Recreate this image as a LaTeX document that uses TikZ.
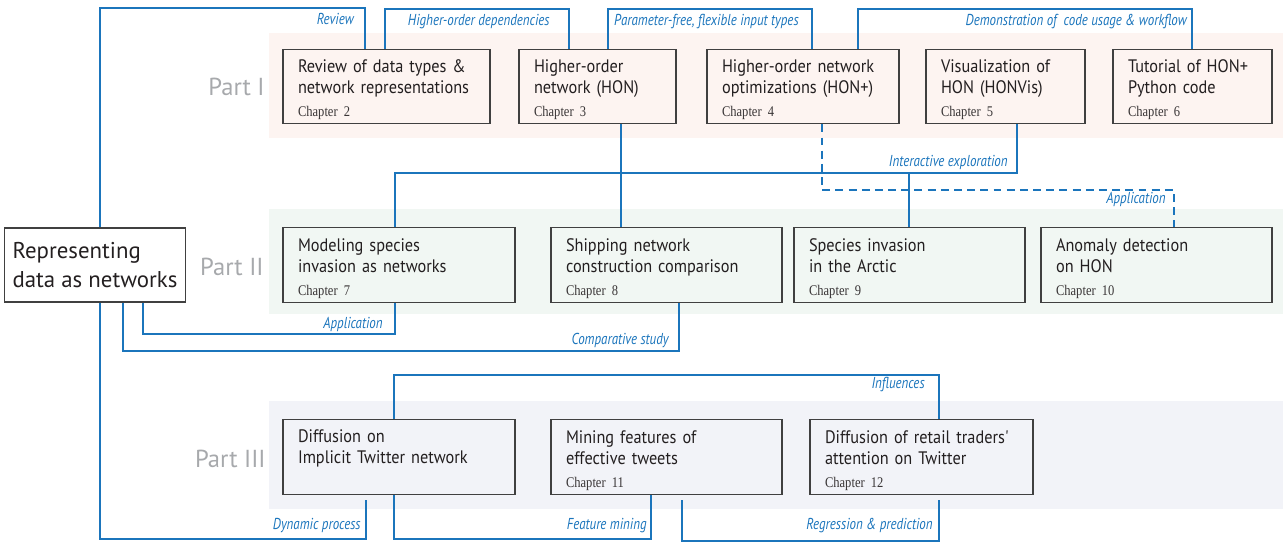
\documentclass[tikz,border=0pt]{standalone}
\usepackage{fontspec}
\setsansfont{PT Sans}
\newfontfamily\boxfont[FakeStretch=0.9]{PT Sans}
\newfontfamily\lblfont[FakeStretch=0.82]{PT Sans}
\newfontfamily\chapfont[FakeStretch=0.85]{Liberation Serif}
\usepackage{tikz}
\usetikzlibrary{arrows.meta,positioning,calc}
\definecolor{linkblue}{RGB}{27,117,188}
\definecolor{boxgray}{RGB}{64,64,64}
\definecolor{partgray}{RGB}{167,169,172}
\definecolor{textdark}{RGB}{35,31,32}
\definecolor{bandone}{RGB}{253,244,241}
\definecolor{bandtwo}{RGB}{241,247,243}
\definecolor{bandthree}{RGB}{242,243,248}
\tikzset{
  chapbox/.style={draw=boxgray, line width=0.7pt, minimum height=1.49cm,
                  text width=#1, inner xsep=0.3cm, inner ysep=0pt, align=left,
                  text=textdark, font=\boxfont\fontsize{10.3}{12}\selectfont,
                  execute at begin node={\rule{0pt}{11pt}}},
  rootbox/.style={draw=boxgray, line width=0.7pt, minimum height=1.48cm,
                  minimum width=3.56cm, inner xsep=0.16cm, align=left,
                  text=textdark, font=\sffamily\fontsize{13}{16.5}\selectfont},
  partlbl/.style={font=\sffamily\fontsize{14}{16}\selectfont, text=partgray,
                  inner sep=0pt, anchor=east},
  lbl/.style={font=\lblfont\itshape\fontsize{9}{10}\selectfont, text=linkblue,
              inner sep=0pt, anchor=east},
  link/.style={draw=linkblue, line width=1.1pt},
  dashlink/.style={link, dash pattern=on 4.5pt off 3pt},
}
\newcommand{\chap}[1]{{\chapfont\fontsize{8.4}{9}\selectfont\color{textdark!90} #1}}

\begin{document}
\begin{tikzpicture}[x=0.02cm, y=-0.02cm]
\useasboundingbox (0,0) rectangle (1287,551);

% ================= bands =================
\fill[bandone] (269,33) rectangle (1283,138);
\fill[bandtwo] (269,209) rectangle (1283,314);
\fill[bandthree] (269,401) rectangle (1283,509);

\node[partlbl] (part1) at (265,87) {Part I};
\node[partlbl] (part2) at (264,267) {Part II};
\node[partlbl] (part3) at (266,459) {Part III};

\node[rootbox] (root) at (95,265) {Representing\\data as networks};

% ================= Part I =================
\node[chapbox=3.54cm] (ch2) at (386.5,86.5)
  {Review of data types \&\\network representations\\[1pt]\chap{Chapter 2}};
\node[chapbox=2.54cm] (ch3) at (597.5,86.5)
  {Higher-order\\network (HON)\\[1pt]\chap{Chapter 3}};
\node[chapbox=3.24cm] (ch4) at (803,86.5)
  {Higher-order network\\optimizations (HON+)\\[1pt]\chap{Chapter 4}};
\node[chapbox=2.58cm] (ch5) at (1005.5,86.5)
  {Visualization of\\HON (HONVis)\\[1pt]\chap{Chapter 5}};
\node[chapbox=2.58cm] (ch6) at (1192.5,86.5)
  {Tutorial of HON+\\Python code\\[1pt]\chap{Chapter 6}};

% ================= Part II =================
\node[chapbox=4.04cm] (ch7) at (399,265)
  {Modeling species\\invasion as networks\\[1pt]\chap{Chapter 7}};
\node[chapbox=4.02cm] (ch8) at (666.5,265)
  {Shipping network\\construction comparison\\[1pt]\chap{Chapter 8}};
\node[chapbox=4.02cm] (ch9) at (909.5,265)
  {Species invasion\\in the Arctic\\[1pt]\chap{Chapter 9}};
\node[chapbox=4.02cm] (ch10) at (1156.5,265)
  {Anomaly detection\\on HON\\[1pt]\chap{Chapter 10}};

% ================= Part III =================
\node[chapbox=4.04cm] (twit) at (399,457)
  {Diffusion on\\Implicit Twitter network\\[1pt]\chap{\strut}};
\node[chapbox=4.02cm] (ch11) at (666.5,457)
  {Mining features of\\effective tweets\\[1pt]\chap{Chapter 11}};
\node[chapbox=3.86cm] (ch12) at (921.5,457)
  {Diffusion of retail traders'\\attention on Twitter\\[1pt]\chap{Chapter 12}};

% ================= links, top =================
\draw[link] (root.north -| 100,0) |- (365,8) -- (ch2.north -| 365,0);
\node[lbl] (lrev) at (354,19) {Review};
\draw[link] (ch2.north -| 385,0) |- (569,9) -- (ch3.north -| 569,0);
\node[lbl] (lhod) at (550,22) {Higher-order dependencies};
\draw[link] (ch3.north -| 608,0) |- (812,9) -- (ch4.north -| 812,0);
\node[lbl] (lpf) at (799,22) {Parameter-free, flexible input types};
\draw[link] (ch4.north -| 858,0) |- (1192,9) -- (ch6.north -| 1192,0);
\node[lbl] (ldemo) at (1187,22) {Demonstration of\ \ code usage \& workflow};

% ================= links, Part I to Part II =================
\draw[link] (ch5.south -| 1017,0) |- (395,173) -- (ch7.north -| 395,0);
\draw[link] (909,173) -- (ch9.north -| 909,0);
\node[lbl] (lint) at (1008,162) {Interactive exploration};
\draw[link] (ch3.south -| 621,0) -- (ch8.north -| 621,0);
\draw[dashlink] (ch4.south -| 822,0) |- (1174,190) -- (ch10.north -| 1174,0);
\node[lbl] (lapp2) at (1166,199) {Application};

% ================= links, root to Part II =================
\draw[link] (root.south -| 143,0) |- (395,334) -- (ch7.south -| 395,0);
\node[lbl] (lapp1) at (383,324) {Application};
\draw[link] (root.south -| 123,0) |- (679,351) -- (ch8.south -| 679,0);
\node[lbl] (lcomp) at (669,340) {Comparative study};

% ================= links, Part III =================
\draw[link] (root.south -| 100,0) |- (366,539) -- ([yshift=-3pt]twit.south -| 366,0);
\node[lbl] (ldyn) at (361,526) {Dynamic process};
\draw[link] (twit.south -| 394,0) |- (651,539) -- (ch11.south -| 651,0);
\node[lbl] (lfeat) at (647,526) {Feature mining};
\draw[link] ([yshift=-3pt]ch11.south -| 682,0) |- (939,541) -- ([yshift=-3pt]ch12.south -| 939,0);
\node[lbl] (lreg) at (933,526) {Regression \& prediction};
\draw[link] (twit.north -| 394,0) |- (939,375) -- (ch12.north -| 939,0);
\node[lbl] (linf) at (925,385) {Influences};

\end{tikzpicture}
\end{document}
